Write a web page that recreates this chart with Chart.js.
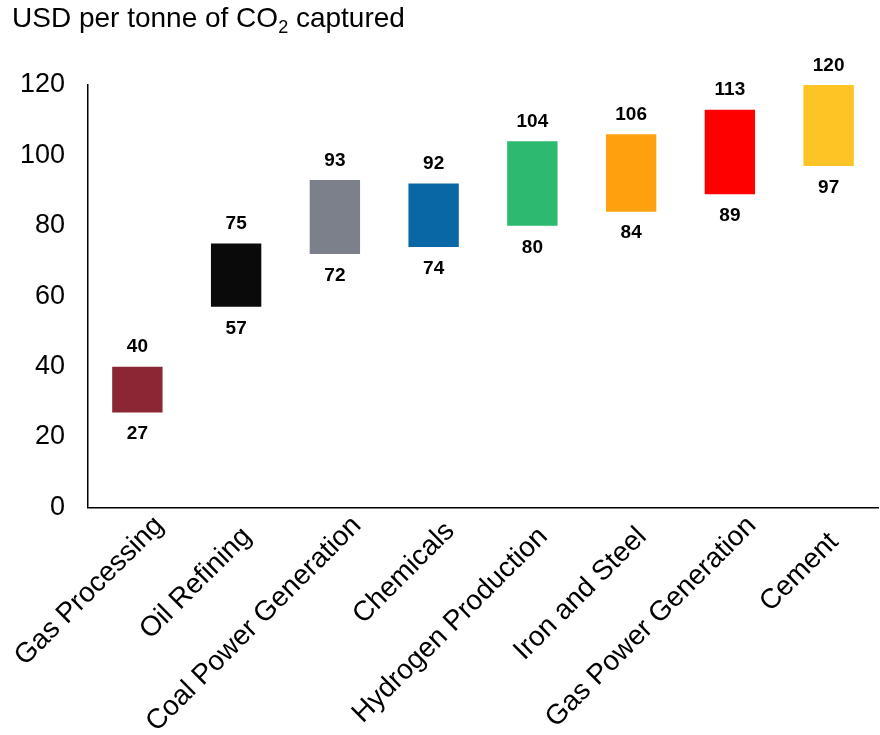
<!DOCTYPE html>
<html>
<head>
<meta charset="utf-8">
<script src="https://cdn.jsdelivr.net/npm/chart.js@4.4.1/dist/chart.umd.min.js"></script>
<style>
  html, body { margin:0; padding:0; background:#fff; }
  #wrap { position:relative; width:880px; height:735px; }
  #title { position:absolute; left:12px; top:2px; font-family:"Liberation Sans", Arial, sans-serif; font-size:28px; color:#000; white-space:nowrap; }
  #title sub { font-size:18px; vertical-align:-6px; line-height:0; }
  canvas { display:block; }
</style>
</head>
<body>
<div id="wrap">
  <div id="title">USD per tonne of CO<sub>2</sub> captured</div>
  <canvas id="chart" width="880" height="735"></canvas>
</div>
<script>
// Capture cost ranges by sector
const sectors = ['Gas Processing','Oil Refining','Coal Power Generation','Chemicals','Hydrogen Production','Iron and Steel','Gas Power Generation','Cement'];
const lowCost  = [27, 57, 72, 74, 80, 84, 89, 97];
const highCost = [40, 75, 93, 92, 104, 106, 113, 120];
const barColors = ['#8b2635','#0a0a0a','#7b808a','#0a67a6','#2db96f','#ffa20f','#ff0000','#fec324'];
const yTicks = [0, 20, 40, 60, 80, 100, 120];

const FONT = '"Liberation Sans", Arial, sans-serif';
// the source nudges some short rotated labels down along their baseline; trailing spaces do the same
const labelNudge = [0, 2, 0, 1, 2, 2, 0, 3];

// draws the low/high numbers under and over each bar
const rangeLabels = {
  id:'rangeLabels',
  afterDatasetsDraw(chart){
    const ctx = chart.ctx;
    const meta = chart.getDatasetMeta(0);
    ctx.save();
    ctx.font = 'bold 19px ' + FONT;
    ctx.fillStyle = '#000';
    ctx.textAlign = 'center';
    meta.data.forEach((bar, i) => {
      const top = Math.min(bar.y, bar.base);
      const bot = Math.max(bar.y, bar.base);
      ctx.textBaseline = 'bottom';
      ctx.fillText(String(highCost[i]), bar.x, top - 10);
      ctx.textBaseline = 'top';
      ctx.fillText(String(lowCost[i]), bar.x, bot + 12);
    });
    ctx.restore();
  }
};

new Chart(document.getElementById('chart'), {
  type:'bar',
  data:{
    labels: sectors,
    datasets:[{
      data: sectors.map((s, i) => [lowCost[i], highCost[i]]),
      backgroundColor: barColors,
      borderWidth: 0,
      barPercentage: 0.51,
      categoryPercentage: 1
    }]
  },
  options:{
    responsive:false,
    animation:false,
    layout:{ padding:{ top:85, right:2, left:0, bottom:0 } },
    plugins:{ legend:{display:false}, tooltip:{enabled:false} },
    scales:{
      y:{
        min:0, max:120,
        afterBuildTicks(axis){ axis.ticks = yTicks.map(v => ({value:v})); },
        afterFit(axis){ axis.width = 88; },
        grid:{ display:false, drawTicks:false },
        border:{ display:true, color:'#000', width:1.5 },
        ticks:{ color:'#000', font:{ family:FONT, size:27 }, padding:23 }
      },
      x:{
        afterFit(axis){ axis.paddingLeft = 0; axis.height -= 6; },
        grid:{ display:false, drawTicks:false },
        border:{ display:true, color:'#000', width:1.5 },
        ticks:{
          color:'#000', font:{ family:FONT, size:28 },
          minRotation:45, maxRotation:45, padding:2, labelOffset:22, autoSkip:false,
          callback(val, i){ return sectors[i] + ' '.repeat(labelNudge[i]); }
        }
      }
    }
  },
  plugins:[rangeLabels]
});
</script>
</body>
</html>
